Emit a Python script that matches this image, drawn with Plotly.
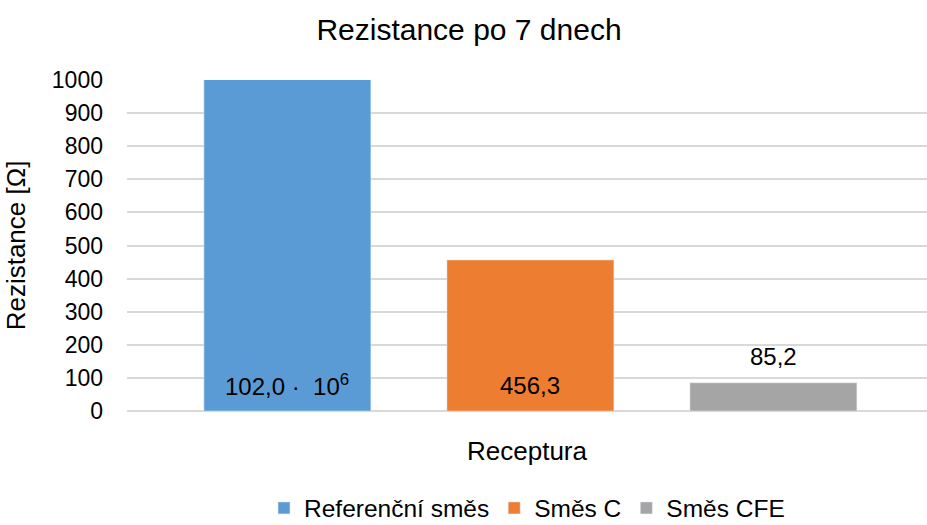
import plotly.graph_objects as go

# ---- data ----
series_names = ["Referenční směs", "Směs C", "Směs CFE"]
values = [102.0e6, 456.3, 85.2]
colors = ["#5B9BD5", "#ED7D31", "#A5A5A5"]
y_ticks = [0, 100, 200, 300, 400, 500, 600, 700, 800, 900, 1000]

FONT = "Liberation Sans, Arial, sans-serif"
Y_MAX = 1000


def fmt(v):
    if v >= 1e6:
        exp = 0
        m = v
        while m >= 1000:
            m /= 10
            exp += 1
        return f"{m:.1f}".replace(".", ",") + " ·  10<sup>" + str(exp) + "</sup>"
    return f"{v:.1f}".replace(".", ",")


fig = go.Figure()
for name, v, c in zip(series_names, values, colors):
    fig.add_trace(go.Bar(x=[name], y=[v], name=name, marker_color=c,
                         width=0.687, hoverinfo="skip"))

annotations = []
for name, v in zip(series_names, values):
    inside = v > 0.3 * Y_MAX
    annotations.append(dict(
        x=name, y=0 if inside else v, xref="x", yref="y",
        text=fmt(v), showarrow=False, yanchor="middle",
        yshift=26,
        font=dict(family=FONT, size=24, color="#000000")))

fig.update_layout(
    width=927, height=525,
    margin=dict(l=127, r=0, t=80, b=114, autoexpand=False),
    paper_bgcolor="white", plot_bgcolor="white",
    barmode="overlay",
    font=dict(family=FONT, color="#000000"),
    title=dict(text="Rezistance po 7 dnech", x=469 / 927, xref="container",
               xanchor="center", y=1 - 29 / 525, yanchor="middle",
               font=dict(size=30, family=FONT, color="#000000")),
    xaxis=dict(showticklabels=False, range=[-0.660, 2.632],
               automargin=False,
               showgrid=False, zeroline=False, showline=False,
               title=dict(text="Receptura", standoff=30,
                          font=dict(size=26, family=FONT))),
    yaxis=dict(range=[0, Y_MAX], tickvals=y_ticks,
               ticktext=[str(t) for t in y_ticks],
               automargin=False,
               tickfont=dict(size=23, family=FONT),
               showgrid=True, gridcolor="#D9D9D9", gridwidth=1.5,
               zeroline=True, zerolinecolor="#D9D9D9", zerolinewidth=1.5,
               ticklabelstandoff=23,
               title=dict(text="Rezistance [Ω]", standoff=18,
                          font=dict(size=26, family=FONT))),
    legend=dict(orientation="h", x=0.5, xanchor="center",
                y=-97 / 331, yanchor="middle",
                font=dict(size=24.5, family=FONT)),
    annotations=annotations,
)

fig.write_html(
    "out.html",
    config={"displayModeBar": False},
    post_script="document.body.style.margin='0';document.body.style.overflow='hidden';",
)
